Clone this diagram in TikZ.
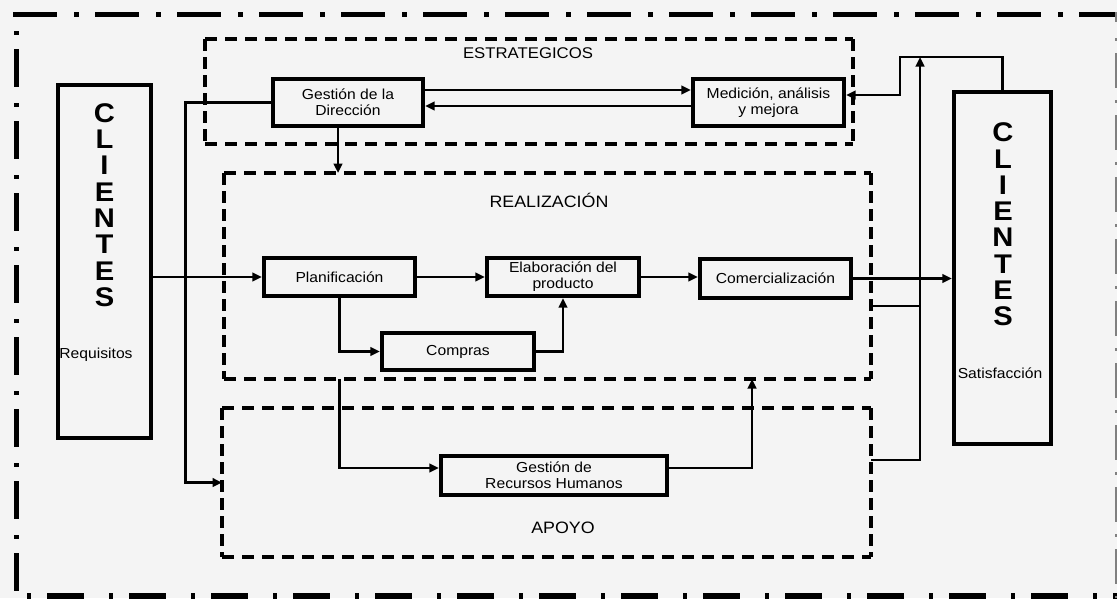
\documentclass[tikz,border=0pt]{standalone}
\usepackage{fontspec}
\setmainfont[FakeStretch=1.08]{Liberation Sans}
\usetikzlibrary{arrows.meta,calc}
\definecolor{paper}{RGB}{244,244,244}
\begin{document}
\begin{tikzpicture}[x=1pt,y=-1pt,
  box/.style={draw, line width=3.8pt, inner sep=1pt, align=center,
    font=\fontsize{14.5}{16}\selectfont},
  grp/.style={draw=none, inner sep=0pt, outer sep=0pt},
  conn/.style={line width=2.9pt},
  arr/.style={line width=2.9pt, -{Triangle[length=9.5pt,width=8.5pt]}},
  hdash/.style={line width=3.2pt, dash pattern=on 12pt off 8pt},
  vdash/.style={line width=3.2pt, dash pattern=on 12pt off 6pt},
  letters/.style={font=\fontsize{27}{26.3}\selectfont\bfseries, align=center, inner sep=0pt},
  small/.style={font=\fontsize{14.5}{16}\selectfont, inner sep=0pt},
  title/.style={font=\fontsize{15.5}{17}\selectfont, inner sep=0pt}]

\useasboundingbox (0,0) rectangle (1117,598);
\fill[paper] (0,0) rectangle (1117,598);

% outer dash-dot frame
\draw[line width=5pt, dash pattern=on 44pt off 17pt on 5pt off 16pt] (13,14) -- (1116,14);
\draw[line width=5pt, dash pattern=on 4pt off 14pt on 38pt off 16pt] (16,31) -- (16,592);
\draw[line width=8pt, dash pattern=on 4pt off 16pt on 37pt off 25pt] (27,597) -- (1117,597);
\draw[gray, line width=2.5pt] (1116,12) -- (1116,22);
\draw[gray, line width=2.5pt, dash pattern=on 3pt off 12pt on 35pt off 12pt] (1116,38) -- (1116,598);

% process groups
\node[grp, minimum width=648pt, minimum height=105pt] (estr) at (529,91.5) {};
\node[grp, minimum width=647pt, minimum height=206pt] (real) at (547.5,276) {};
\node[grp, minimum width=649pt, minimum height=149pt] (apoyo) at (546.5,482.5) {};
\foreach \g in {estr,real,apoyo}{
  \draw[hdash] (\g.north west) -- (\g.north east) (\g.south west) -- (\g.south east);
  \draw[vdash] (\g.north west) -- (\g.south west) (\g.north east) -- (\g.south east);
}
\node[title] (estrt) at (528,53) {ESTRATEGICOS};
\node[title, font=\fontsize{16.5}{18}\selectfont] (realt) at (549,200) {REALIZACIÓN};
\node[title, font=\fontsize{16.5}{18}\selectfont] (apoyot) at (563,528) {APOYO};

% customers
\node[box, minimum width=93.5pt, minimum height=353.5pt] (cliL) at (104.5,261.5) {};
\node[letters] (cliLt) at (104.5,205) {C\\L\\I\\E\\N\\T\\E\\S};
\node[small] (req) at (96,355) {Requisitos};
\node[box, minimum width=97.5pt, minimum height=352.5pt] (cliR) at (1002.5,268) {};
\node[letters] (cliRt) at (1003,224.5) {C\\L\\I\\E\\N\\T\\E\\S};
\node[small] (sat) at (1000,373) {Satisfacción};

% processes
\node[box, minimum width=150.5pt, minimum height=47.5pt] (gest) at (348,102.5) {Gestión de la\\Dirección};
\node[box, minimum width=151.5pt, minimum height=47.5pt] (med) at (768.5,102.5) {Medición, análisis\\y mejora};
\node[box, minimum width=151.5pt, minimum height=38.5pt] (plan) at (339.5,277) {Planificación};
\node[box, minimum width=152.5pt, minimum height=38.5pt] (elab) at (563,277) {Elaboración del\\producto};
\node[box, minimum width=151.5pt, minimum height=39.5pt] (com) at (775.5,278.5) {Comercialización};
\node[box, minimum width=152.5pt, minimum height=37.5pt] (comp) at (458,351.5) {Compras};
\node[box, minimum width=226.5pt, minimum height=39.5pt] (rrhh) at (554,475.5) {Gestión de\\Recursos Humanos};

% connectors
\coordinate (gd) at ([xshift=-10pt]gest.south);
\coordinate (rd) at (plan.south |- real.south);
\coordinate (jn) at (920,57);

\draw[arr] ([yshift=12.5pt]gest.east) -- ([yshift=12.5pt]med.west);
\draw[arr] ([yshift=-3.5pt]med.west) -- ([yshift=-3.5pt]gest.east);
\draw[arr] (gest.west) -- ++(-85,0) |- (apoyo.west);
\draw[arr] (gd) -- (gd |- real.north);

\draw[arr] (cliL.east |- plan.west) -- (plan.west);
\draw[arr] (plan.east) -- (elab.west);
\draw[arr] (plan.south) |- (comp.west);
\draw[arr] (comp.east) -| (elab.south);
\draw[arr, line width=2.2pt] (elab.east) -- (com.west |- elab.east);
\draw[arr] (com.east) -- (cliR.west |- com.east);

\draw[arr] (rd) |- ([yshift=7.5pt]rrhh.west);
\draw[arr] ([yshift=7.5pt]rrhh.east) -| ([xshift=204.5pt]real.south);

\draw[conn] ($(real.east)+(0,30)$) -- ++(49,0);
\draw[arr] ($(apoyo.east)+(0,-22.5)$) -| (jn);
\draw[arr] (cliR.north) |- ($(jn)+(-20,0)$) |- ([yshift=7.5pt]med.east);

\end{tikzpicture}
\end{document}
